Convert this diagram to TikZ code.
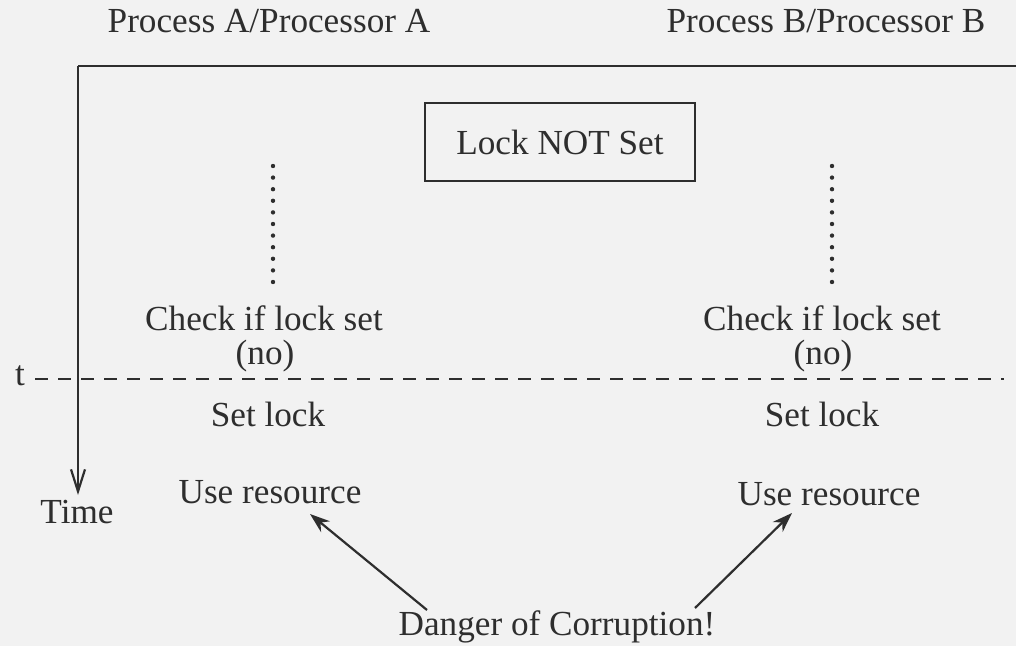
\documentclass[tikz,border=0pt]{standalone}
\usepackage{fontspec}
\setmainfont{Liberation Serif}
\usetikzlibrary{arrows.meta}
\definecolor{ink}{HTML}{2E2E2E}
\definecolor{paper}{HTML}{F2F2F2}
\begin{document}
\begin{tikzpicture}[x=0.5pt,y=-0.5pt,
  every node/.style={text=ink,font=\fontsize{17.6}{21}\selectfont,inner sep=0pt},
  lbl/.style={anchor=center},
  lockbox/.style={draw=ink,line width=1.2pt,minimum width=135pt,minimum height=39pt},
  axis/.style={draw=ink,line width=1.1pt},
  dotline/.style={draw=ink,line width=2.2pt,line cap=round,dash pattern=on 0pt off 5.8pt},
  dashline/.style={draw=ink,line width=1pt,dash pattern=on 6.5pt off 5pt},
  danger/.style={draw=ink,line width=1.1pt,-{Stealth[length=10pt,width=7pt]}}]
\useasboundingbox[fill=paper] (0,0) rectangle (1016,646);
% titles
\node[lbl] (ta) at (269,21) {Process A/Processor A};
\node[lbl] (tb) at (826,21) {Process B/Processor B};
% axes
\coordinate (corner) at (78,66);
\coordinate (topend) at (1016,66);
\coordinate (timetip) at (78,495);
\draw[axis] (topend) -- (corner);
\draw[axis,-{Straight Barb[length=11pt,width=7pt]}] (corner) -- (timetip);
\node[lbl] (time) at (77,512) {Time};
% lock box
\node[lockbox] (lock) at (560,142) {Lock NOT Set};
% dotted lines
\coordinate (da1) at (273,166); \coordinate (da2) at (273,283);
\coordinate (db1) at (832,166); \coordinate (db2) at (832,283);
\draw[dotline] (da1) -- (da2);
\draw[dotline] (db1) -- (db2);
% left column
\node[lbl] (chka) at (264,318) {Check if lock set};
\node[lbl] (noa) at (265,356) {(no)};
\node[lbl] (seta) at (268,414) {Set lock};
\node[lbl] (usea) at (270,492) {Use resource};
% right column
\node[lbl] (chkb) at (822,318) {Check if lock set};
\node[lbl] (nob) at (823,356) {(no)};
\node[lbl] (setb) at (822,414) {Set lock};
\node[lbl] (useb) at (829,494) {Use resource};
% t line
\node[lbl] (t) at (20,376) {t};
\coordinate (ts) at (35,379);
\coordinate (te) at (1004,379);
\draw[dashline] (ts) -- (te);
% danger
\node[lbl] (dang) at (557,627) {Danger of Corruption!};
\coordinate (d1) at (427,610);
\coordinate (d2) at (695,608);
\coordinate (ua) at (310,514);
\coordinate (ub) at (792,513);
\draw[danger] (d1) -- (ua);
\draw[danger] (d2) -- (ub);
\end{tikzpicture}
\end{document}
